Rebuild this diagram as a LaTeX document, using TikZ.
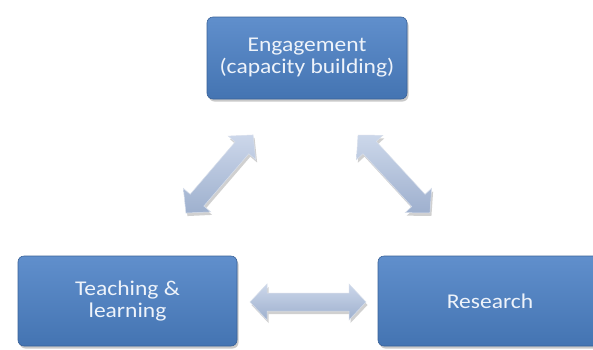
\documentclass[tikz,border=0pt]{standalone}
\usepackage{fontspec}
\setmainfont{Carlito}[FakeStretch=1.12]
\usetikzlibrary{shadows}
\definecolor{boxtop}{RGB}{96,143,204}
\definecolor{boxbot}{RGB}{68,116,178}
\definecolor{boxedge}{RGB}{58,98,152}
\definecolor{arrtop}{RGB}{204,215,234}
\definecolor{arrbot}{RGB}{158,176,206}
\definecolor{txt}{RGB}{238,243,250}
\tikzset{
  bluebox/.style={rectangle, rounded corners=6pt, top color=boxtop, bottom color=boxbot,
    draw=boxedge, line width=0.6pt, text=txt, align=center,
    font=\fontsize{21}{22}\selectfont,
    drop shadow={shadow xshift=1.5pt, shadow yshift=-2.5pt, opacity=0.35, fill=black!60}},
  darrowfill/.style={top color=arrtop, bottom color=arrbot,
    draw=white!60!arrbot, line width=0.5pt,
    drop shadow={shadow xshift=1.5pt, shadow yshift=-3pt, opacity=0.3, fill=black!60}}
}
% #1 = centre, #2 = angle, #3 = half length
\newcommand\myDArrow[3]{%
  \begin{scope}[shift={#1}, rotate=#2]
    \path[darrowfill] (-#3,0) -- (-#3+17,18) -- (-#3+17,9) -- (#3-17,9) -- (#3-17,18)
      -- (#3,0) -- (#3-17,-18) -- (#3-17,-9) -- (-#3+17,-9) -- (-#3+17,-18) -- cycle;
  \end{scope}}
\begin{document}
\begin{tikzpicture}[x=1pt,y=-1pt]
\clip (0,0) rectangle (593,349);
\fill[white] (0,0) rectangle (593,349);
\node[bluebox, minimum width=200pt, minimum height=82pt] (eng) at (307,58) {Engagement\\(capacity building)};
\node[bluebox, minimum width=219pt, minimum height=90pt] (teach) at (127.5,301) {Teaching \&\\learning};
\node[bluebox, minimum width=224pt, minimum height=90pt] (res) at (490,301) {Research};
\myDArrow{(219.5,174)}{49.3}{51.5}
\myDArrow{(394,174)}{-47.3}{53}
\myDArrow{(308,302)}{0}{58}
\end{tikzpicture}
\end{document}
